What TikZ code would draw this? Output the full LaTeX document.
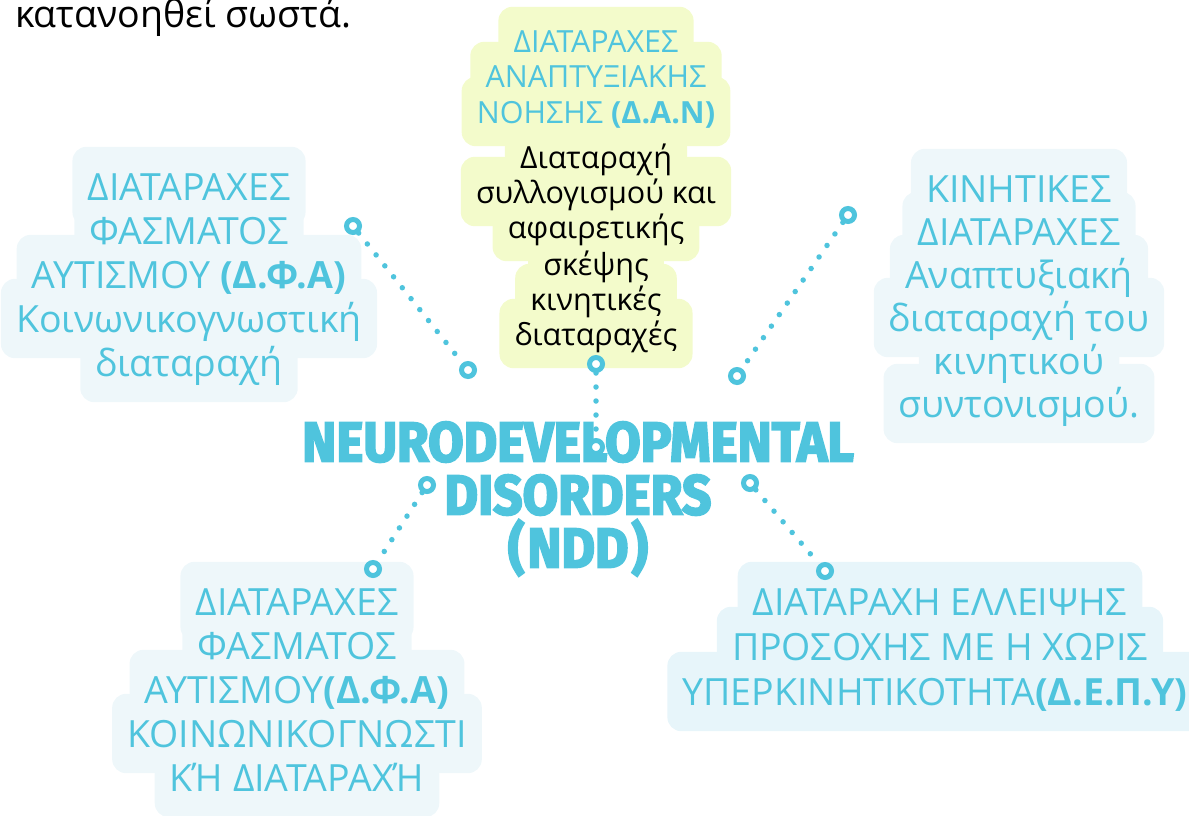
\documentclass[tikz,border=0pt]{standalone}
\usepackage{fontspec}
\setmainfont{Open Sans}
\newfontfamily\titlefont[FakeBold=3.5]{Fira Sans}
\usepackage{xcolor}
\usepackage{tikz}
\usetikzlibrary{positioning, backgrounds}
\definecolor{nddcyan}{HTML}{4FC4DD}
\definecolor{palebg}{HTML}{EEF7FA}
\definecolor{bluebg}{HTML}{E7F5FA}
\definecolor{limebg}{HTML}{F3FBCB}
\tikzset{
    baseline/.style={anchor=base, inner xsep=15pt, inner ysep=10pt, text=nddcyan},
    bigline/.style={baseline, font=\fontsize{37.5}{44}\selectfont, text height=43pt, text depth=16pt},
    topline/.style={baseline, font=\fontsize{30.5}{35}\selectfont, text height=36pt, text depth=13pt},
    blob/.style={rounded corners=14pt},
    ring/.style={circle, draw=nddcyan, line width=5pt, fill=white, minimum size=13pt, inner sep=0pt},
    dotline/.style={nddcyan, line width=5.5pt, line cap=round, dash pattern=on 0pt off 14pt}
}

\begin{document}
\begin{tikzpicture}[x=1pt, y=-1pt]
    \useasboundingbox (0,0) rectangle (1189,816);
    \node (intro) [anchor=base west, inner sep=0pt, font=\fontsize{37.5}{44}\selectfont] at (15,28) {κατανοηθεί σωστά.};

    % left block
    \node (dfa1) [bigline] at (189,200) {ΔΙΑΤΑΡΑΧΕΣ};
    \node (dfa2) [bigline] at (189,244) {ΦΑΣΜΑΤΟΣ};
    \node (dfa3) [bigline] at (189,288) {ΑΥΤΙΣΜΟΥ \textbf{(Δ.Φ.Α)}};
    \node (dfa4) [bigline] at (189,332) {Κοινωνικογνωστική};
    \node (dfa5) [bigline] at (189,376) {διαταραχή};

    % top block
    \node (dan1) [topline] at (596,53) {ΔΙΑΤΑΡΑΧΕΣ};
    \node (dan2) [topline] at (596,88) {ΑΝΑΠΤΥΞΙΑΚΗΣ};
    \node (dan3) [topline] at (596,123) {ΝΟΗΣΗΣ \textbf{(Δ.Α.Ν)}};
    \node (dan4) [topline, text=black] at (596,168) {Διαταραχή};
    \node (dan5) [topline, text=black] at (596,203) {συλλογισμού και};
    \node (dan6) [topline, text=black] at (596,238) {αφαιρετικής};
    \node (dan7) [topline, text=black] at (596,275) {σκέψης};
    \node (dan8) [topline, text=black] at (596,310) {κινητικές};
    \node (dan9) [topline, text=black] at (596,345) {διαταραχές};

    % right block
    \node (kin1) [bigline] at (1019,202) {ΚΙΝΗΤΙΚΕΣ};
    \node (kin2) [bigline] at (1019,245) {ΔΙΑΤΑΡΑΧΕΣ};
    \node (kin3) [bigline] at (1019,288) {Αναπτυξιακή};
    \node (kin4) [bigline] at (1019,331) {διαταραχή του};
    \node (kin5) [bigline] at (1019,374) {κινητικού};
    \node (kin6) [bigline] at (1019,417) {συντονισμού.};

    % bottom left block
    \node (kdi1) [bigline] at (297,615) {ΔΙΑΤΑΡΑΧΕΣ};
    \node (kdi2) [bigline] at (297,659) {ΦΑΣΜΑΤΟΣ};
    \node (kdi3) [bigline] at (297,703) {ΑΥΤΙΣΜΟΥ\textbf{(Δ.Φ.Α)}};
    \node (kdi4) [bigline] at (297,747) {ΚΟΙΝΩΝΙΚΟΓΝΩΣΤΙ};
    \node (kdi5) [bigline] at (297,791) {ΚΉ ΔΙΑΤΑΡΑΧΉ};

    % bottom right block
    \node (depy1) [bigline] at (940,615) {ΔΙΑΤΑΡΑΧΗ ΕΛΛΕΙΨΗΣ};
    \node (depy2) [bigline] at (940,660) {ΠΡΟΣΟΧΗΣ ΜΕ Η ΧΩΡΙΣ};
    \node (depy3) [bigline] at (940,705) {ΥΠΕΡΚΙΝΗΤΙΚΟΤΗΤΑ\textbf{(Δ.Ε.Π.Υ)}.};

    % blobs behind the lines
    \begin{scope}[on background layer]
        \foreach \n in {dfa1,dfa2,dfa3,dfa4,dfa5,kin1,kin2,kin3,kin4,kin5,kin6,kdi1,kdi2,kdi3,kdi4,kdi5}
            \fill [blob, palebg] (\n.south west) rectangle (\n.north east);
        \foreach \n in {depy1,depy2,depy3}
            \fill [blob, bluebg] (\n.south west) rectangle (\n.north east);
        \foreach \n in {dan1,dan2,dan3,dan4,dan5,dan6,dan7,dan8,dan9}
            \fill [blob, limebg] (\n.south west) rectangle (\n.north east);
    \end{scope}

    % centre title
    \node (title) [align=center, text=nddcyan, xscale=0.92, transform shape, font=\titlefont\bfseries\fontsize{56}{53}\selectfont] at (578,499) {NEURODEVELOPMENTAL\\DISORDERS\\(\kern3pt NDD\kern3pt)};

    % connectors
    \node (r1a) [ring] at (353,226) {};
    \node (r1b) [ring] at (468,370) {};
    \node (r2a) [ring] at (596,364) {};
    \node (r2b) [ring] at (596,447) {};
    \node (r3a) [ring] at (848,215) {};
    \node (r3b) [ring] at (737,376) {};
    \node (r4a) [ring] at (427,485) {};
    \node (r4b) [ring] at (373,569) {};
    \node (r5a) [ring] at (750,483) {};
    \node (r5b) [ring] at (825,571) {};
    \draw [dotline] (r1a) -- (r1b);
    \draw [dotline] (r2a) -- (r2b);
    \draw [dotline] (r3a) -- (r3b);
    \draw [dotline] (r4a) -- (r4b);
    \draw [dotline] (r5a) -- (r5b);
\end{tikzpicture}
\end{document}
